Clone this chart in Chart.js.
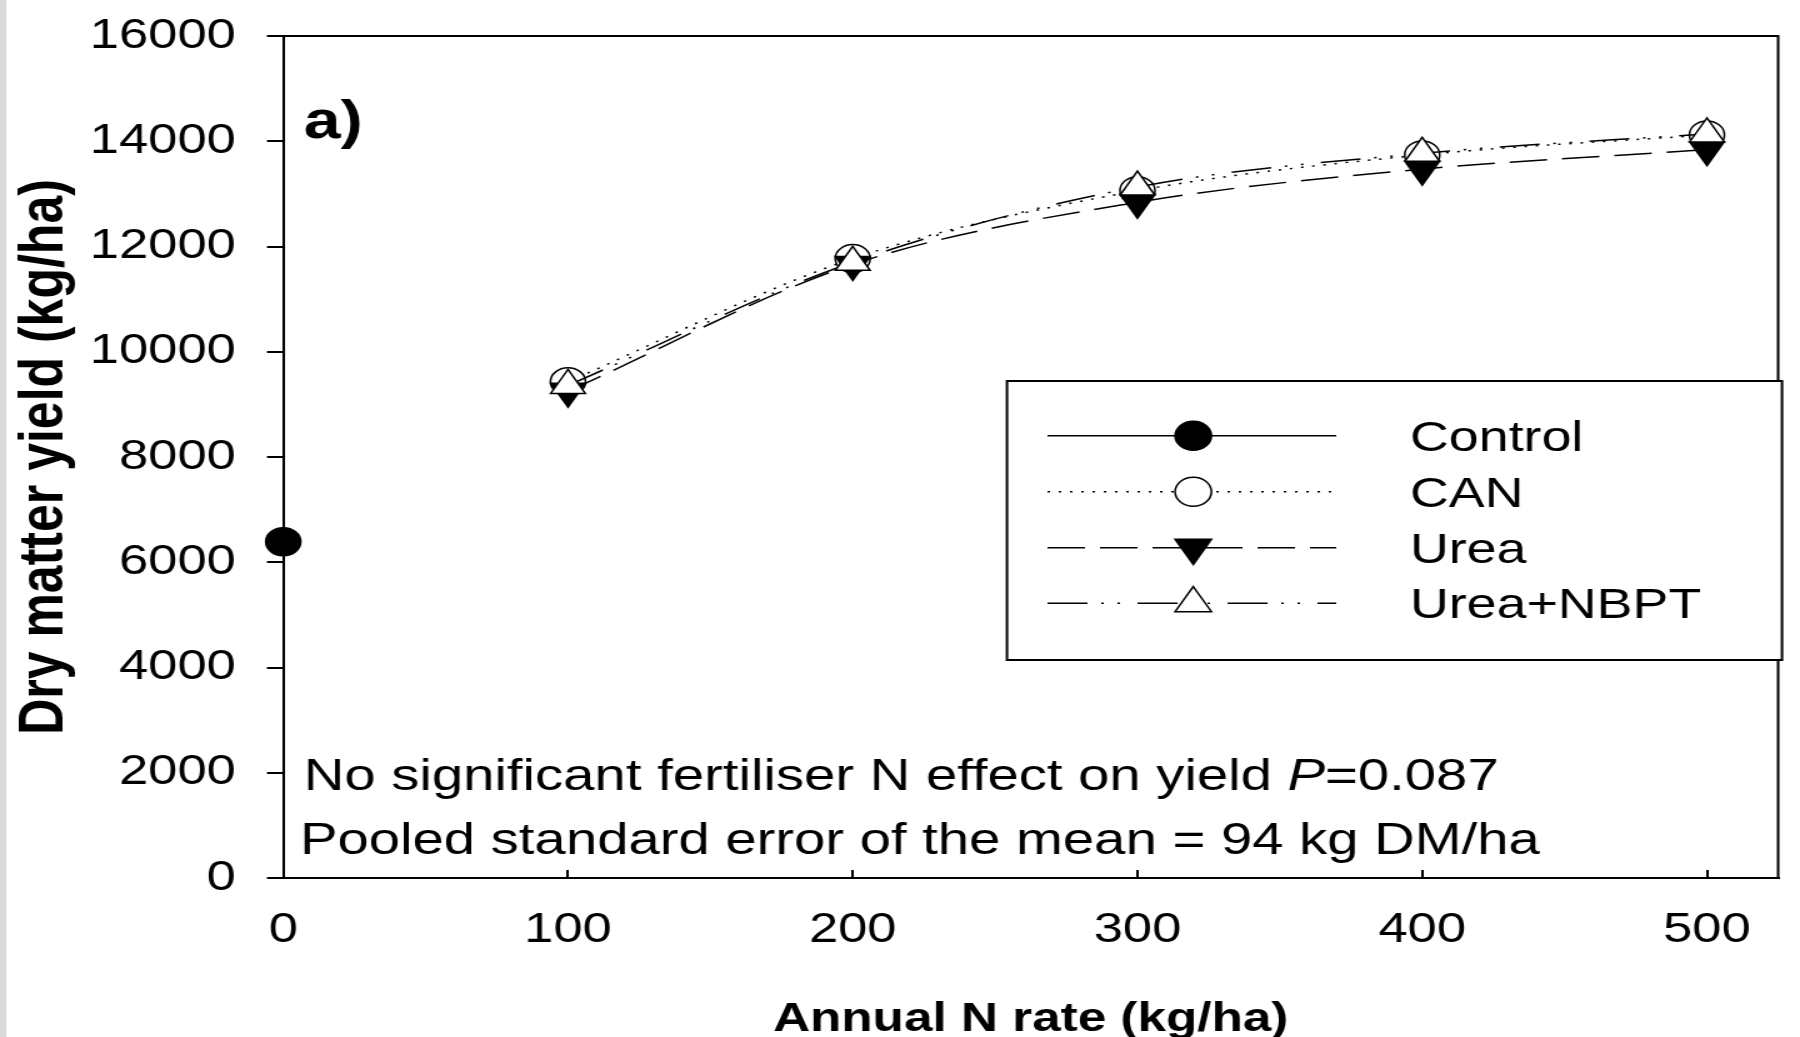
<!DOCTYPE html>
<html>
<head>
<meta charset="utf-8">
<script src="https://cdn.jsdelivr.net/npm/chart.js@4.4.1/dist/chart.umd.min.js"></script>
<style>
  html, body { margin: 0; padding: 0; background: #fff; overflow: hidden; }
  #chart { display: block; }
</style>
</head>
<body>
<canvas id="chart" width="1440" height="1037" style="width:1800px;height:1037px"></canvas>
<script>
// valores leidos de la figura a)
const nRates = [100, 200, 300, 400, 500];
const controlRate = [0];
const controlYield = [6390];
const canYield = [9430, 11770, 13060, 13740, 14120];
const ureaYield = [9250, 11660, 12840, 13470, 13840];
const nbptYield = [9360, 11700, 13130, 13770, 14140];
const seriesNames = ['Control', 'CAN', 'Urea', 'Urea+NBPT'];
const xTicks = [0, 100, 200, 300, 400, 500];
const yTicks = [0, 2000, 4000, 6000, 8000, 10000, 12000, 14000, 16000];

const FONT = "'Liberation Sans', Arial, sans-serif";

function puntos(xs, ys) {
  return xs.map((x, i) => ({ x: x, y: ys[i] }));
}

// marcador propio para la leyenda
function marcador(ctx, estilo, x, y, r, girado) {
  ctx.beginPath();
  if (estilo === 'circle') {
    ctx.arc(x, y, r, 0, Math.PI * 2);
  } else {
    const s = girado ? -1 : 1;
    ctx.moveTo(x, y - s * r);
    ctx.lineTo(x + 0.866 * r, y + s * 0.5 * r);
    ctx.lineTo(x - 0.866 * r, y + s * 0.5 * r);
    ctx.closePath();
  }
  ctx.fill();
  ctx.stroke();
}

const fondo = {
  id: 'fondo',
  beforeDraw(chart) {
    const ctx = chart.ctx;
    ctx.save();
    ctx.fillStyle = '#fff';
    ctx.fillRect(0, 0, chart.width, chart.height);
    ctx.fillStyle = '#d9d9d9';
    ctx.fillRect(0, 0, 5, chart.height);
    ctx.restore();
  }
};

const textos = {
  id: 'textos',
  afterDraw(chart) {
    const ctx = chart.ctx;
    const a = chart.chartArea;
    ctx.save();

    // marco superior y derecho
    ctx.strokeStyle = '#000';
    ctx.lineWidth = 2;
    ctx.beginPath();
    ctx.moveTo(a.left, a.top);
    ctx.lineTo(a.right, a.top);
    ctx.lineTo(a.right, a.bottom);
    ctx.stroke();

    ctx.fillStyle = '#000';
    ctx.textBaseline = 'alphabetic';
    ctx.textAlign = 'left';
    ctx.font = 'bold 53px ' + FONT;
    ctx.fillText('a)', 243, 138);

    ctx.font = '45px ' + FONT;
    const t1 = 'No significant fertiliser N effect on yield ';
    ctx.fillText(t1, 243, 790);
    let x = 243 + ctx.measureText(t1).width;
    ctx.font = 'italic 45px ' + FONT;
    ctx.fillText('P', x, 790);
    x += ctx.measureText('P').width;
    ctx.font = '45px ' + FONT;
    ctx.fillText('=0.087', x, 790);
    ctx.fillText('Pooled standard error of the mean = 94 kg DM/ha', 240, 854);

    // leyenda
    ctx.fillStyle = '#fff';
    ctx.fillRect(805.6, 381, 620, 279);
    ctx.lineWidth = 2;
    ctx.strokeRect(805.6, 381, 620, 279);
    const filas = [435.7, 491.7, 547.7, 603.3];
    chart.data.datasets.forEach((ds, i) => {
      const y = filas[i];
      ctx.strokeStyle = '#000';
      ctx.lineWidth = 1.5;
      ctx.setLineDash(ds.borderDash || []);
      ctx.beginPath();
      ctx.moveTo(838, y);
      ctx.lineTo(1069, y);
      ctx.stroke();
      ctx.setLineDash([]);
      ctx.fillStyle = ds.pointBackgroundColor;
      const r = ds.pointStyle === 'circle' ? 14.5 : 16.8;
      marcador(ctx, ds.pointStyle, 954.6, y, r, ds.pointRotation === 180);
      ctx.fillStyle = '#000';
      ctx.font = '43px ' + FONT;
      ctx.fillText(ds.label, 1128, y + 15);
    });
    ctx.restore();
  }
};

new Chart(document.getElementById('chart'), {
  type: 'line',
  data: {
    datasets: [
      {
        label: seriesNames[0],
        data: puntos(controlRate, controlYield),
        borderColor: '#000',
        borderWidth: 1.5,
        borderDash: [],
        pointStyle: 'circle',
        pointRadius: 14,
        pointBackgroundColor: '#000',
        pointBorderColor: '#000',
        pointBorderWidth: 1.5,
        clip: false,
        order: 3
      },
      {
        label: seriesNames[1],
        data: puntos(nRates, canYield),
        borderColor: '#000',
        borderWidth: 1.5,
        borderDash: [2, 7],
        cubicInterpolationMode: 'monotone',
        pointStyle: 'circle',
        pointRadius: 14,
        pointBackgroundColor: '#fff',
        pointBorderColor: '#000',
        pointBorderWidth: 1.5,
        clip: false,
        order: 2
      },
      {
        label: seriesNames[2],
        data: puntos(nRates, ureaYield),
        borderColor: '#000',
        borderWidth: 1.5,
        borderDash: [30, 12],
        cubicInterpolationMode: 'monotone',
        pointStyle: 'triangle',
        pointRotation: 180,
        pointRadius: 16,
        pointBackgroundColor: '#000',
        pointBorderColor: '#000',
        pointBorderWidth: 1.5,
        clip: false,
        order: 1
      },
      {
        label: seriesNames[3],
        data: puntos(nRates, nbptYield),
        borderColor: '#000',
        borderWidth: 1.5,
        borderDash: [32, 11, 2, 11, 2, 14],
        cubicInterpolationMode: 'monotone',
        pointStyle: 'triangle',
        pointRotation: 0,
        pointRadius: 16,
        pointBackgroundColor: '#fff',
        pointBorderColor: '#000',
        pointBorderWidth: 1.5,
        clip: false,
        order: 0
      }
    ]
  },
  options: {
    responsive: false,
    animation: false,
    events: [],
    layout: { padding: { top: 36, right: 2, left: 0, bottom: 0 } },
    plugins: {
      legend: { display: false },
      tooltip: { enabled: false }
    },
    scales: {
      x: {
        type: 'linear',
        min: 0,
        max: 525,
        afterBuildTicks: (s) => { s.ticks = xTicks.map(v => ({ value: v })); },
        afterFit: (s) => { s.height = 159; s.paddingLeft = 0; s.paddingRight = 0; },
        border: { display: true, color: '#000', width: 2 },
        grid: { drawOnChartArea: false, drawTicks: true, tickLength: -8, color: '#000', lineWidth: 2 },
        ticks: {
          color: '#000',
          font: { family: FONT, size: 42 },
          padding: 35,
          maxRotation: 0,
          autoSkip: false,
          callback: (v) => String(v)
        },
        title: {
          display: true,
          text: 'Annual N rate (kg/ha)',
          color: '#000',
          font: { family: FONT, size: 41, weight: 'bold', lineHeight: 0.6 },
          padding: { top: 0, bottom: 5 }
        }
      },
      y: {
        min: 0,
        max: 16000,
        afterBuildTicks: (s) => { s.ticks = yTicks.map(v => ({ value: v })); },
        afterFit: (s) => { s.width = 226.6; s.paddingTop = 0; s.paddingBottom = 0; },
        border: { display: true, color: '#000', width: 2 },
        grid: { drawOnChartArea: false, drawTicks: true, tickLength: 13, color: '#000', lineWidth: 2 },
        ticks: {
          color: '#000',
          font: { family: FONT, size: 42 },
          padding: 25,
          callback: (v) => String(v)
        },
        title: {
          display: true,
          text: 'Dry matter yield (kg/ha)',
          color: '#000',
          font: { family: FONT, size: 50, weight: 'bold' },
          padding: { top: 6, bottom: 0 }
        }
      }
    }
  },
  plugins: [fondo, textos]
});
</script>
</body>
</html>
